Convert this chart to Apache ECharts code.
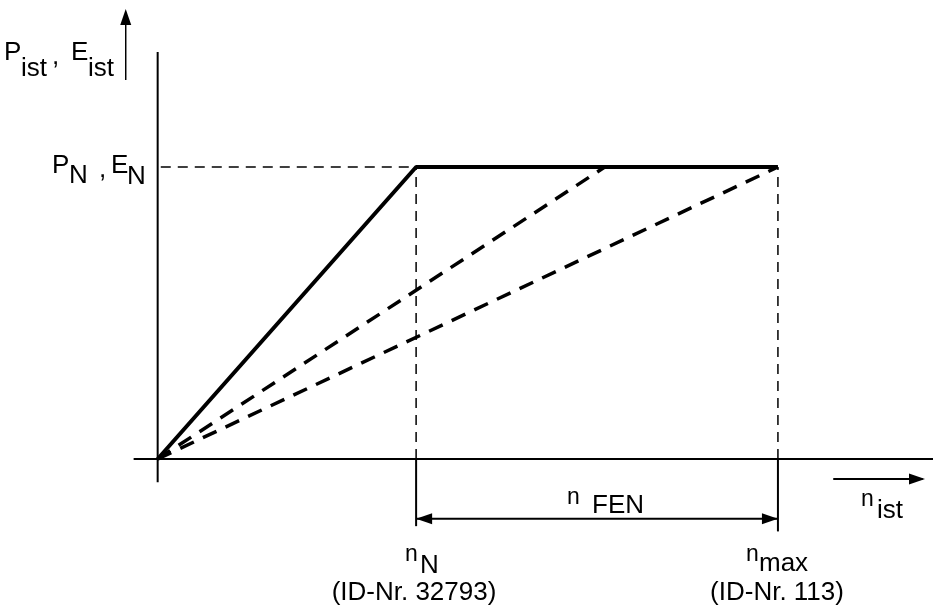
<!DOCTYPE html>
<html>
<head>
<meta charset="utf-8">
<script src="https://cdn.jsdelivr.net/npm/echarts@6/dist/echarts.min.js"></script>
<style>
  html, body { margin: 0; padding: 0; background: #ffffff; }
  #chart { width: 933px; height: 612px; }
</style>
</head>
<body>
<div id="chart"></div>
<script>
// Speed in units of the rated speed n_N, power/energy in units of P_N / E_N.
const speedMarks = [1, 2.4];          // n_N, n_max
const ratedLevel = [1];               // P_N, E_N
const ratedCurveX = [0, 1, 2.4];      // full output reached at n_N, held up to n_max
const ratedCurveY = [0, 1, 1];
const rampMidX = [0, 1.73];           // slower ramp, rated output reached between n_N and n_max
const rampMidY = [0, 1];
const rampMaxX = [0, 2.4];            // slowest ramp, rated output reached at n_max
const rampMaxY = [0, 1];
const speedLabels = ['(ID-Nr. 32793)', '(ID-Nr. 113)'];

const FONT = '"Liberation Sans", Arial, sans-serif';
const BLACK = '#000000';

const zip = (xs, ys) => xs.map((x, i) => [x, ys[i]]);

const chart = echarts.init(document.getElementById('chart'), null, { renderer: 'canvas' });

function plainLine(name, data, width, type) {
  return {
    name, type: 'line', data, symbol: 'none', clip: false, silent: true,
    animation: false,
    lineStyle: { color: BLACK, width, type: type || 'solid', cap: 'butt' }
  };
}

const nN = speedMarks[0], nMax = speedMarks[1], pN = ratedLevel[0];
const dimY = -0.205;       // level of the n_FEN dimension line
const arrowY = -0.0685;    // level of the n_ist direction arrow
const axisSideX = -0.1236; // small arrow beside the P_ist label

// arrowheads: [x, y, direction in degrees, 0 = right, 90 = up]
const arrowHeads = [
  [axisSideX, 1.541, 90],
  [nN, dimY, 180],
  [nMax, dimY, 0],
  [2.969, arrowY, 0]
];

function text(str, x, baseline, size, align) {
  return {
    type: 'text', x, y: baseline - 0.35 * size, silent: true,
    style: {
      text: str, fill: BLACK, font: `${size}px ${FONT}`,
      align: align || 'left', verticalAlign: 'middle'
    }
  };
}

const option = {
  backgroundColor: '#ffffff',
  animation: false,
  grid: { left: 158 - 0.6 * 259, width: 3.6 * 259, top: 459 - 1.55 * 292, height: 1.85 * 292 },
  xAxis: { type: 'value', min: -0.6, max: 3, show: false },
  yAxis: { type: 'value', min: -0.3, max: 1.55, show: false },
  series: [
    plainLine('x-axis', [[-0.093, 0], [3, 0]], 2),
    plainLine('y-axis', [[0, -0.08], [0, 1.394]], 2),
    plainLine('side arrow', [[axisSideX, 1.298], [axisSideX, 1.53]], 1.5),
    plainLine('rated level', [[0.012, pN], [nN, pN]], 1.5, [10, 7]),
    plainLine('n_N guide', [[nN, 0], [nN, pN]], 1.5, [10, 7]),
    plainLine('n_max guide', [[nMax, 0], [nMax, pN]], 1.5, [10, 7]),
    plainLine('n_N stem', [[nN, 0], [nN, -0.23]], 2),
    plainLine('n_max stem', [[nMax, 0], [nMax, -0.248]], 2),
    plainLine('n_FEN dim', [[nN, dimY], [nMax, dimY]], 2),
    plainLine('n_ist arrow', [[2.614, arrowY], [2.96, arrowY]], 2),
    plainLine('rated curve', zip(ratedCurveX, ratedCurveY), 4),
    plainLine('ramp mid', zip(rampMidX, rampMidY), 3.5, [15, 10]),
    plainLine('ramp max', zip(rampMaxX, rampMaxY), 3.5, [15, 10]),
    {
      name: 'arrowheads', type: 'custom', clip: false, silent: true, animation: false,
      data: arrowHeads,
      renderItem(params, api) {
        const tip = api.coord([api.value(0), api.value(1)]);
        const a = api.value(2) * Math.PI / 180;
        const dx = Math.cos(a), dy = -Math.sin(a);
        const L = 16, W = 11;
        const bx = tip[0] - dx * L, by = tip[1] - dy * L;
        const px = -dy * W / 2, py = dx * W / 2;
        return {
          type: 'polygon',
          shape: { points: [tip, [bx + px, by + py], [bx - px, by - py]] },
          style: { fill: BLACK, stroke: null }
        };
      }
    }
  ],
  graphic: [
    // P_ist , E_ist
    text('P', 4, 62, 26), text('ist', 21, 78, 26),
    text(',', 52, 66, 26),
    text('E', 71, 62, 26), text('ist', 88, 78, 26),
    // P_N , E_N
    text('P', 52, 175, 26), text('N', 69, 185, 26),
    text(',', 99, 179, 26),
    text('E', 111, 175, 26), text('N', 127, 186, 26),
    // n FEN
    text('n', 567, 506, 23), text('FEN', 592, 515, 26),
    // n ist
    text('n', 861, 508, 23), text('ist', 877, 520, 26),
    // n_N, n_max
    text('n', 405, 563, 23), text('N', 420, 575, 26),
    text('n', 746, 563, 23), text('max', 759, 573, 26),
    text(speedLabels[0], 414, 602, 26, 'center'),
    text(speedLabels[1], 777, 602, 26, 'center')
  ]
};

chart.setOption(option);
</script>
</body>
</html>
